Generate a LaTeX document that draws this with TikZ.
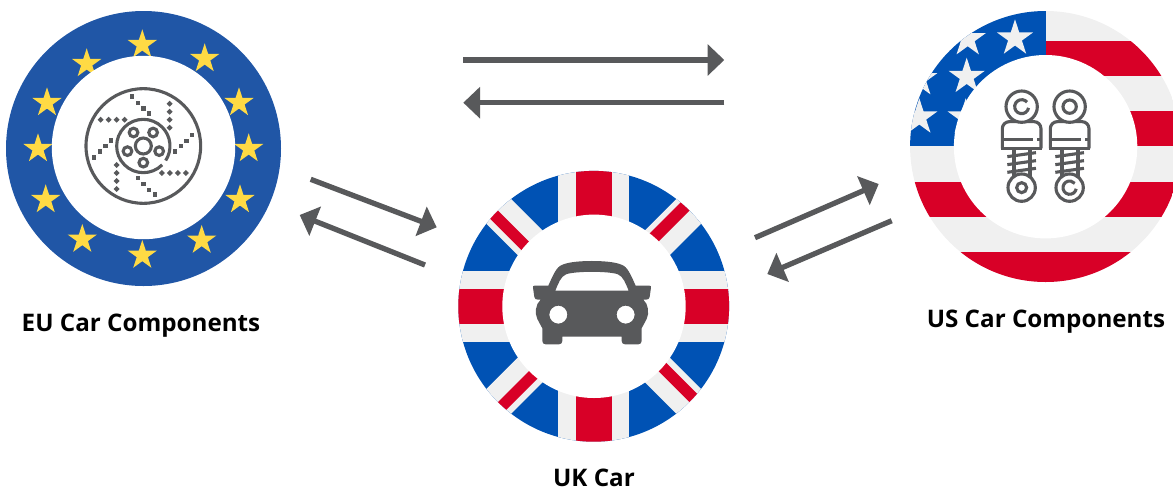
\documentclass[tikz,border=0pt]{standalone}
\usepackage{fontspec}
\setmainfont{Open Sans}
\usetikzlibrary{arrows.meta,shapes.geometric}
\definecolor{FlagRed}  {HTML}{D80027}
\definecolor{FlagBlue} {HTML}{0052B4}
\definecolor{FlagGray} {HTML}{F0F0F0}
\definecolor{EuroBlue} {HTML}{2056A6}
\definecolor{EuroGold} {HTML}{FFDA44}
\definecolor{IconGray} {HTML}{58595B}
\tikzset{
  ringbox/.style={circle,fill=#1,inner sep=0pt,minimum size=271pt},
  holebox/.style={circle,fill=white,inner sep=0pt,minimum size=183.4pt},
  flagstar/.style={star,star points=5,star point ratio=2.618,fill=#1,
                   inner sep=0pt},
  arr/.style={-{Triangle[length=16.7pt,width=30.7pt]},line width=5.3pt,
              color=IconGray},
  lbl/.style={font=\fontsize{24.2}{28}\selectfont\bfseries,text=black,inner sep=0pt},
  icon/.style={draw=IconGray,line width=3.1pt},
  zoomed/.style={shift={#1},x=0.3333pt,y=-0.3333pt},
}

\begin{document}
\begin{tikzpicture}[x=1pt,y=-1pt]
  \useasboundingbox (0,0) rectangle (1173,491);

  % EU ring
  \node[ringbox=EuroBlue,minimum size=275pt] (euRing) at (143.5,148.5) {};
  \foreach \x/\y [count=\i] in {142.3/44.7,204.7/58.7,239/102.7,248.7/148.7,
      240/199.7,201.7/240.3,142.3/255.3,82.3/239.3,45.7/199.7,38/148.7,
      47/102.7,86.7/63.7}
    \node[flagstar=EuroGold,minimum size=30.8pt] (euStar\i) at (\x,\y) {};
  \node[holebox] (euHole) at (143.5,147.5) {};

  % brake disc
  \begin{scope}[zoomed={(75,80)}]
    \draw[icon] (205,198) circle (172);
    \draw[icon] (205,198)+(45:80) arc[start angle=45,end angle=393,radius=80];
    \draw[icon] (205,198) circle (24);
    \foreach \a in {90,162,234,306,378}
      \draw[icon] (205,198)+(\a:50) circle (13);
    \foreach \x/\y in {171/50,189/69,205/86,222/101,351/165,335/183,318/198,300/215,
        240/344,222/330,205/312,189/294,57/233,75/215,92/198,108/182}
      \fill[IconGray] (\x-7,\y-7) rectangle (\x+7,\y+7);
    \foreach \x/\y in {284/71,284/95,284/119,284/143,333/279,309/279,285/279,261/279,
        125/327,125/303,125/279,125/255,77/119,101/119,125/119,149/119}
      \fill[IconGray] (\x-9,\y) -- (\x,\y-9) -- (\x+9,\y) -- (\x,\y+9) -- cycle;
  \end{scope}

  % UK ring
  \begin{scope}
    \clip (593.7,306.3) circle (135.4);
    \fill[FlagBlue] (450,165) rectangle (740,450);
    \begin{scope}[shift={(593.7,306.3)}]
      \draw[FlagGray,line width=35pt] (-140,-140) -- (140,140);
      \draw[FlagGray,line width=35pt] (-140,140) -- (140,-140);
      \fill[FlagRed] (0,0) -- (-140,-140) -- (-156,-140) -- (-16,0) -- cycle;
      \fill[FlagRed] (0,0) -- (140,-140) -- (123,-140) -- (-17,0) -- cycle;
      \fill[FlagRed] (0,0) -- (140,140) -- (156,140) -- (16,0) -- cycle;
      \fill[FlagRed] (0,0) -- (-140,140) -- (-124,140) -- (16,0) -- cycle;
      \fill[FlagGray] (-35.3,-140) rectangle (35.3,140);
      \fill[FlagGray] (-140,-35.3) rectangle (140,35.3);
      \fill[FlagRed] (-17.8,-140) rectangle (17.8,140);
      \fill[FlagRed] (-140,-17.8) rectangle (140,17.8);
    \end{scope}
  \end{scope}
  \node[holebox] (ukHole) at (594,306.3) {};

  % car
  \begin{scope}[zoomed={(450,165)}]
    \fill[IconGray,even odd rule]
      (426,288) .. controls (380,288) and (345,293) .. (330,303)
      .. controls (316,312) and (305,340) .. (295,362) -- (254,362)
      .. controls (250,362) and (248,364) .. (249,368) -- (253,396)
      .. controls (254,402) and (258,404) .. (264,404) -- (272,404)
      .. controls (256,418) and (254,445) .. (262,462) -- (277,490) -- (277,528)
      .. controls (277,534) and (281,538) .. (287,538) -- (327,538)
      .. controls (333,538) and (337,534) .. (337,528) -- (337,515) -- (515,515) -- (515,528)
      .. controls (515,534) and (519,538) .. (525,538) -- (565,538)
      .. controls (571,538) and (575,534) .. (575,528) -- (575,490) -- (590,462)
      .. controls (598,445) and (596,418) .. (580,404) -- (588,404)
      .. controls (594,404) and (598,402) .. (599,396) -- (603,368)
      .. controls (604,364) and (602,362) .. (598,362) -- (557,362)
      .. controls (547,340) and (536,312) .. (522,303)
      .. controls (507,293) and (472,288) .. (426,288) -- cycle
      (316,377) .. controls (325,355) and (332,335) .. (348,328)
      .. controls (375,318) and (477,318) .. (504,328)
      .. controls (520,335) and (527,355) .. (536,377) -- cycle
      (325,449) circle (27) (527,449) circle (27);
  \end{scope}

  % US ring
  \begin{scope}
    \clip (1045.6,146.5) circle (135.5);
    \fill[FlagGray] (905,5) rectangle (1190,290);
    \foreach \a/\b in {40.7/75.7,111/146.3}
      \fill[FlagRed] (1045.6,\a) rectangle (1190,\b);
    \foreach \a/\b in {181.7/217,252.3/290}
      \fill[FlagRed] (905,\a) rectangle (1190,\b);
    \fill[FlagBlue] (905,5) rectangle (1045.6,146.3);
    \foreach \x/\y [count=\i] in {1015/38.3,967.7/39,966.7/76.7,919.3/79,
        919.3/117.3,965.7/117.3}
      \node[flagstar=FlagGray,minimum size=38pt] (usStar\i) at (\x,\y) {};
  \end{scope}
  \node[holebox] (usHole) at (1045.6,146.7) {};

  % shock absorbers
  \begin{scope}[zoomed={(900,0)}]
    \foreach \dx in {0,144} {
      \draw[icon,rounded corners=7pt] (307+\dx,445) -- (307+\dx,365)
        -- (423+\dx,365) -- (423+\dx,445);
      \draw[icon] (303+\dx,445) -- (427+\dx,445);
      \draw[icon] (307+\dx,418) -- (398+\dx,418) (412+\dx,418) -- (423+\dx,418);
      \draw[icon] (342+\dx,445) -- (342+\dx,530) (390+\dx,445) -- (390+\dx,530);
      \foreach \y in {470,494,517}
        \draw[icon] (322+\dx,\y) -- (408+\dx,\y-12);
      \draw[icon,fill=white] (365+\dx,320) circle (47);
      \draw[icon,fill=white] (365+\dx,563) circle (41);
    }
    \draw[icon] (365,320)+(10:21) arc[start angle=10,end angle=320,radius=21];
    \draw[icon] (509,320) circle (20);
    \draw[icon] (365,563) circle (15);
    \draw[icon] (509,563)+(10:20) arc[start angle=10,end angle=320,radius=20];
  \end{scope}

  % connectors
  \coordinate (topStart)  at (463,60);
  \coordinate (topEnd)    at (724.3,60);
  \coordinate (backStart) at (724.3,102.7);
  \coordinate (backEnd)   at (463.3,102.7);
  \coordinate (euOut)     at (310.7,179.3);
  \coordinate (ukIn)      at (436.7,227.3);
  \coordinate (ukOut)     at (425,265);
  \coordinate (euIn)      at (299.7,215);
  \coordinate (ukRight)   at (755,237.7);
  \coordinate (usIn)      at (878.7,184);
  \coordinate (usOut)     at (891.7,220.7);
  \coordinate (ukBack)    at (767.3,274);
  \draw[arr] (topStart) -- (topEnd);
  \draw[arr] (backStart) -- (backEnd);
  \draw[arr] (euOut) -- (ukIn);
  \draw[arr] (ukOut) -- (euIn);
  \draw[arr] (ukRight) -- (usIn);
  \draw[arr] (usOut) -- (ukBack);

  % labels
  \node[lbl] (euLabel) at (141,325.5) {EU Car Components};
  \node[lbl] (usLabel) at (1046,321.5) {US Car Components};
  \node[lbl] (ukLabel) at (594,477.5) {UK Car};

\end{tikzpicture}
\end{document}
